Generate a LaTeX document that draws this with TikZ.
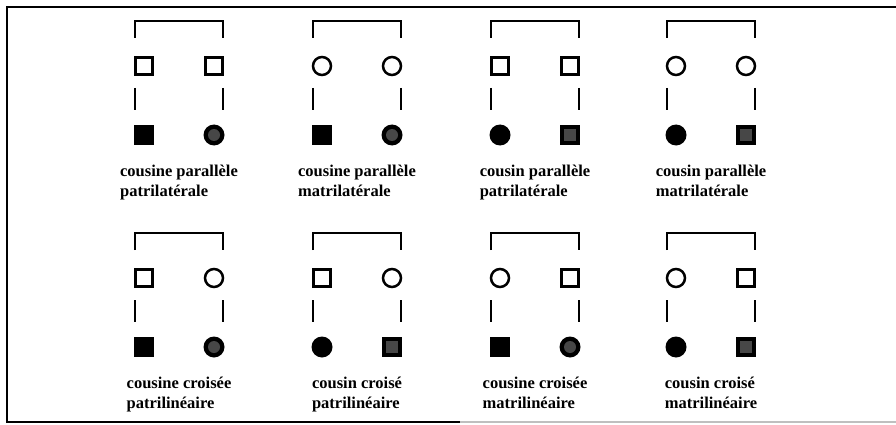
\documentclass[tikz,border=0pt]{standalone}
\usepackage{fontspec}
\setmainfont{Liberation Serif}
\tikzset{
  sym/.style={draw=black, line width=2.5pt, inner sep=0pt, outer sep=0pt},
  osq/.style={sym, rectangle, minimum size=17pt},
  ocirc/.style={sym, circle, minimum size=18pt},
  fsq/.style={rectangle, fill=black, minimum size=20pt, inner sep=0pt},
  fcirc/.style={circle, fill=black, minimum size=21pt, inner sep=0pt},
  ssq/.style={fsq, path picture={\fill[black!72] ([shift={(-6pt,-6pt)}]path picture bounding box.center) rectangle ++(12pt,12pt);}},
  scirc/.style={fcirc, path picture={\fill[black!72] (path picture bounding box.center) circle (6pt);}},
  bar/.style={line width=2.8pt, line join=miter},
  lab/.style={font=\bfseries\fontsize{16.5}{20}\selectfont, align=left, anchor=north, inner sep=0pt}
}
\newcommand\grp[8]{%
  \coordinate (#1tl) at (#2+1,#3);
  \coordinate (#1tr) at (#2+89,#3);
  \coordinate (#1bl) at (#2+1,#3+17);
  \coordinate (#1br) at (#2+89,#3+17);
  \draw[bar] (#1bl) -- (#1tl) -- (#1tr) -- (#1br);
  \node[#4] (#1a) at (#2+10,#3+45) {};
  \node[#5] (#1b) at (#2+80,#3+45) {};
  \coordinate (#1la) at (#2+1,#3+67);
  \coordinate (#1lb) at (#2+1,#3+89);
  \coordinate (#1ra) at (#2+89,#3+67);
  \coordinate (#1rb) at (#2+89,#3+89);
  \draw[bar] (#1la) -- (#1lb);
  \draw[bar] (#1ra) -- (#1rb);
  \node[#6] (#1c) at (#2+10,#3+114) {};
  \node[#7] (#1d) at (#2+80,#3+114) {};
  \node[lab] (#1t) at (#2+45,#3+144) {#8};
}
\begin{document}
\begin{tikzpicture}[x=1pt,y=-1pt]
\useasboundingbox (0,0) rectangle (896,425);
\coordinate (f1) at (896,7);
\coordinate (f2) at (7,7);
\coordinate (f3) at (7,422);
\coordinate (f4) at (460,422);
\coordinate (f5) at (896,422);
\draw[line width=2.6pt, line join=miter] (f1) -- (f2) -- (f3) -- (f4);
\draw[line width=1.5pt, black!25] (f4) -- (f5);
\grp{A}{134}{21}{osq}{osq}{fsq}{scirc}{cousine parallèle\\patrilatérale}
\grp{B}{312}{21}{ocirc}{ocirc}{fsq}{scirc}{cousine parallèle\\matrilatérale}
\grp{C}{490}{21}{osq}{osq}{fcirc}{ssq}{cousin parallèle\\patrilatérale}
\grp{D}{666}{21}{ocirc}{ocirc}{fcirc}{ssq}{cousin parallèle\\matrilatérale}
\grp{E}{134}{233}{osq}{ocirc}{fsq}{scirc}{cousine croisée\\patrilinéaire}
\grp{F}{312}{233}{osq}{ocirc}{fcirc}{ssq}{cousin croisé\\patrilinéaire}
\grp{G}{490}{233}{ocirc}{osq}{fsq}{scirc}{cousine croisée\\matrilinéaire}
\grp{H}{666}{233}{ocirc}{osq}{fcirc}{ssq}{cousin croisé\\matrilinéaire}
\end{tikzpicture}
\end{document}
